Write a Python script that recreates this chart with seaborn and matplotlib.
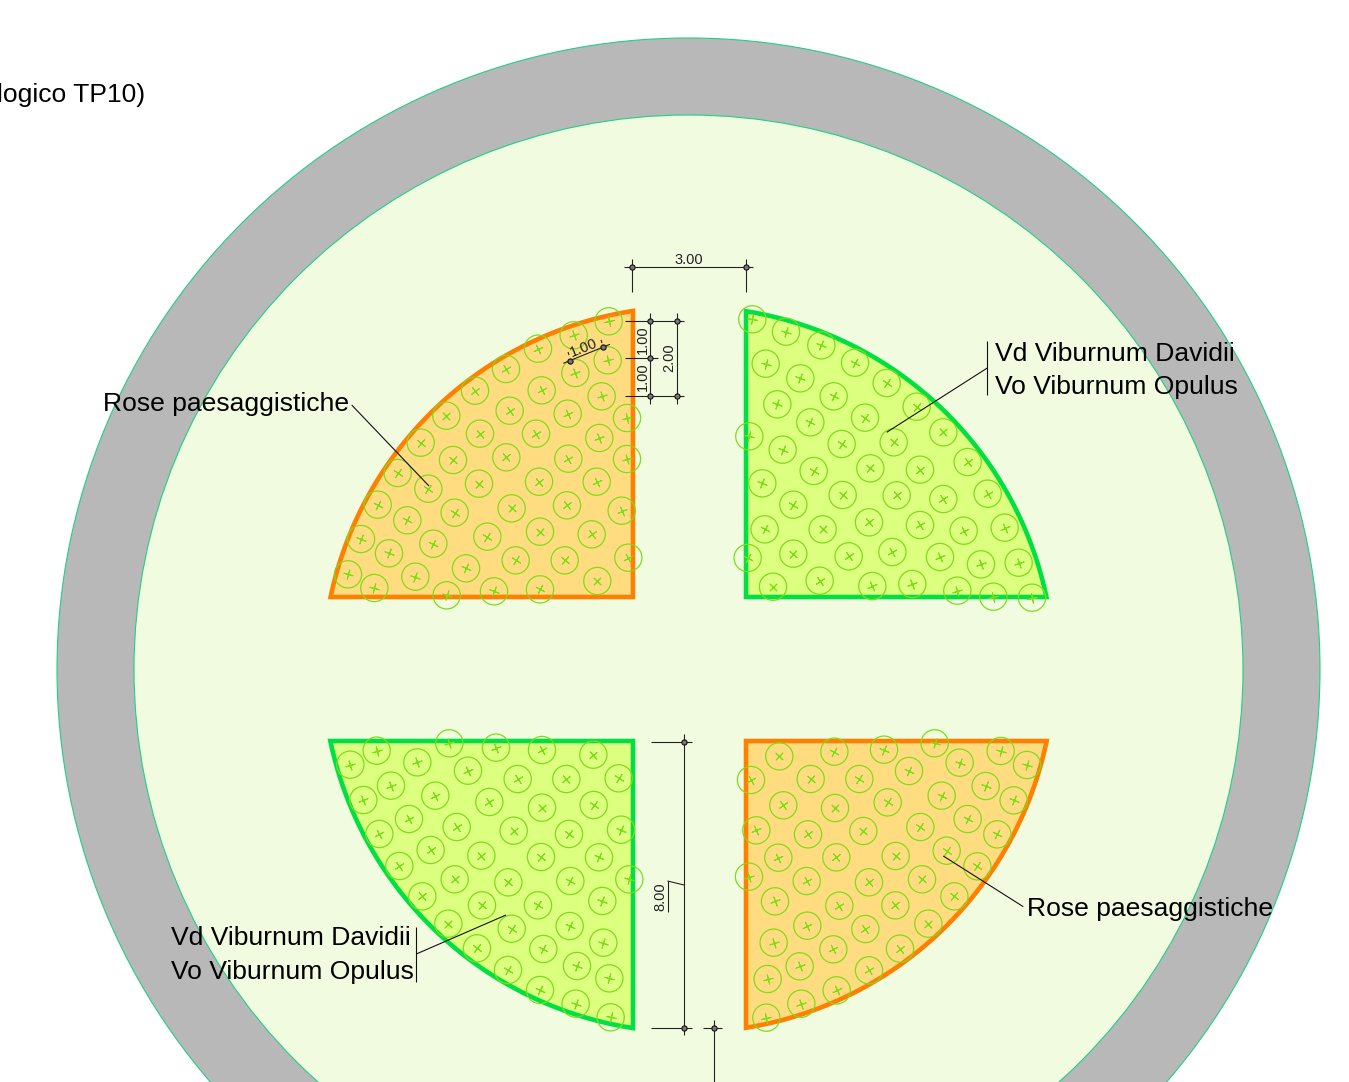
import numpy as np
import pandas as pd
import matplotlib
matplotlib.use("Agg")
import matplotlib.pyplot as plt
from matplotlib.patches import Circle
import seaborn as sns

sns.set_theme(style="white")
plt.rcParams["font.family"] = ["Liberation Sans", "DejaVu Sans"]

W, H = 1349, 1082
RING_CENTER = (688.5, 669.5)
RING_OUTER, RING_INNER, SECTOR_R = 631.5, 554.5, 365.8
ARC_SHIFT = 3

Q1_ORIGIN = (320, 240)
Q1 = [(866,244),(761,286),(654,326),(558,387),(465,452),(379,527),(302,608),(233,699),(173,794),(123,897),
      (84,1003),(163,1044),(207,940),(262,841),(325,746),(399,660),(480,581),(569,512),(665,451),(766,399),
      (863,361),(845,469),(743,521),(648,581),(559,652),(477,731),(404,818),(340,911),(286,1010),(380,1066),
      (438,985),(502,890),(575,805),(657,725),(745,656),(838,594),(921,534),(921,657),(830,725),(741,796),
      (660,875),(587,961),(522,1054),(660,1048),(734,961),(815,883),(905,812),(832,1023),(925,953)]
Q2_ORIGIN = (730, 300)
Q2 = [(67,58),(168,95),(274,136),(375,188),(470,249),(560,320),(640,397),(713,486),(773,581),(824,683),
      (866,788),(906,893),(790,890),(682,872),(753,793),(701,692),(640,597),(570,509),(491,427),(405,353),
      (311,289),(211,235),(107,191),(142,313),(241,367),(335,432),(421,505),(500,586),(570,675),(630,771),
      (547,852),(487,756),(417,667),(338,585),(251,513),(158,449),(58,409),(97,550),(190,614),(278,688),
      (356,769),(427,858),(269,842),(190,761),(104,688),(53,774),(129,860)]
Q3_ORIGIN = (320, 720)
Q3 = [(91,134),(170,92),(292,127),(388,70),(528,83),(666,90),(820,104),(896,175),(739,177),(593,177),
      (444,152),(213,197),(130,240),(346,227),(508,246),(666,263),(821,255),(903,329),(747,342),(581,332),
      (410,321),(267,297),(178,342),(332,390),(484,407),(663,411),(837,412),(928,478),(751,483),(565,487),
      (404,478),(238,438),(307,529),(486,556),(654,556),(847,543),(385,611),(575,626),(749,618),(850,668),
      (471,685),(670,687),(771,738),(868,775),(564,750),(660,810),(767,851),(872,892)]
Q4_ORIGIN = (730, 720)
Q4 = [(148,109),(313,95),(462,89),(614,70),(812,93),(891,135),(689,128),(537,153),(388,177),(242,177),
      (63,180),(160,256),(315,264),(473,247),(635,227),(767,198),(851,241),(713,297),(571,321),(400,333),
      (234,343),(79,331),(145,413),(319,412),(497,408),(650,392),(802,343),(742,439),(576,478),(417,487),
      (230,483),(57,470),(135,544),(328,557),(496,556),(673,529),(595,611),(406,627),(232,617),(131,668),
      (310,688),(510,686),(417,751),(209,739),(113,777),(214,851),(320,811),(109,893)]

# sector corner (x, y) and the side its straight edges run to
SECTOR_X = [633, 746, 633, 746]
SECTOR_Y = [597, 597, 741, 741]
SECTOR_FILL = ["#ffdc80", "#dcff80", "#dcff80", "#ffdc80"]
SECTOR_EDGE = ["#ff8000", "#00e040", "#00e040", "#ff8000"]

LABELS = ["logico TP10)", "Rose paesaggistiche", "Vd Viburnum Davidii", "Vo Viburnum Opulus",
          "Vd Viburnum Davidii", "Vo Viburnum Opulus", "Rose paesaggistiche"]
LABEL_X = [145.5, 103, 995, 995, 171, 171, 1027]
LABEL_Y = [95, 404, 354, 387, 938, 972, 909]
LABEL_HA = ["right", "left", "left", "left", "left", "left", "left"]

LEADERS = [((351.7, 405), (429, 486)), ((987.3, 368), (886.7, 432.3)),
           ((987.3, 341), (987.3, 395)), ((416.3, 927), (416.3, 982)),
           ((416.3, 954), (506, 915)), ((943.3, 856), (1023.3, 906.7))]

DIM_LINES = [((624, 267.3), (753, 267.3)), ((632.3, 259), (632.3, 292)), ((746, 259), (746, 292)),
             ((625, 321), (684, 321)), ((625, 358.3), (658, 358.3)), ((625, 396), (684, 396)),
             ((650, 313), (650, 404)), ((676.7, 313), (676.7, 404)),
             ((563.3, 363.3), (610, 344.3)), ((568, 352), (569, 355)), ((601, 340), (602, 343)),
             ((651, 741.5), (692, 741.5)), ((651, 1027.5), (692, 1027.5)), ((684, 734), (684, 1035)),
             ((684, 885), (667.5, 881)), ((667.5, 881), (667.5, 912)),
             ((703, 1027.5), (722, 1027.5)), ((714.3, 1020), (714.3, 1082))]
DIM_NODES_X = [632.3, 746, 650, 676.7, 650, 650, 676.7, 570, 603, 684, 684, 714.3]
DIM_NODES_Y = [267.3, 267.3, 321, 321, 358.3, 396, 396, 361, 347, 741.5, 1027.5, 1027.5]
DIM_TEXT = ["3.00", "1.00", "1.00", "2.00", "1.00", "8.00"]
DIM_TEXT_X = [688.5, 642.5, 642.5, 669, 584, 660.5]
DIM_TEXT_Y = [259.5, 340, 377, 358, 347.5, 897]
DIM_TEXT_ROT = [0, 90, 90, 90, 22, 90]

PLANT = "#7fdc18"

fig = plt.figure(figsize=(W / 100, H / 100), dpi=100, facecolor="white")
ax = fig.add_axes([0, 0, 1, 1])
ax.set_xlim(0, W)
ax.set_ylim(H, 0)
ax.axis("off")

ax.add_patch(Circle(RING_CENTER, RING_OUTER, fc="#b8b8b8", ec="#20d088", lw=0.8, zorder=1))
ax.add_patch(Circle(RING_CENTER, RING_INNER, fc="#f1fbe0", ec="#20d088", lw=0.8, zorder=2))

cx, cy = RING_CENTER
for sx, sy, fill, edge in zip(SECTOR_X, SECTOR_Y, SECTOR_FILL, SECTOR_EDGE):
    dir_x = np.sign(sx - cx)
    dir_y = np.sign(sy - cy)
    arc_cy = cy - dir_y * ARC_SHIFT
    a0 = np.arctan2(abs(sy - arc_cy), np.sqrt(SECTOR_R**2 - (sy - arc_cy)**2))
    a1 = np.arctan2(np.sqrt(SECTOR_R**2 - (sx - cx)**2), abs(sx - cx))
    t = np.linspace(a0, a1, 120)
    xs = np.r_[sx, cx + dir_x * SECTOR_R * np.cos(t)]
    ys = np.r_[sy, arc_cy + dir_y * SECTOR_R * np.sin(t)]
    ax.fill(xs, ys, facecolor=fill, edgecolor=edge, lw=3.3, joinstyle="miter", zorder=3)

frames = []
for pts, (ox, oy) in zip([Q1, Q2, Q3, Q4], [Q1_ORIGIN, Q2_ORIGIN, Q3_ORIGIN, Q4_ORIGIN]):
    arr = np.array(pts, dtype=float)
    frames.append(pd.DataFrame({"x": ox + arr[:, 0] / 3, "y": oy + arr[:, 1] / 3}))
plants = pd.concat(frames, ignore_index=True)

sns.scatterplot(data=plants, x="x", y="y", marker="o", s=385, facecolor="none",
                edgecolor=PLANT, linewidth=0.9, ax=ax, zorder=4, legend=False)
for x, y in zip(plants["x"], plants["y"]):
    ang = np.degrees(np.arctan2(cy - y, x - cx))
    ax.scatter([x], [y], marker=(4, 2, ang), s=47, c=PLANT, linewidths=0.75, zorder=4)

for (x0, y0), (x1, y1) in LEADERS:
    ax.plot([x0, x1], [y0, y1], color="#111111", lw=0.8, zorder=6, solid_capstyle="butt")
for (x0, y0), (x1, y1) in DIM_LINES:
    ax.plot([x0, x1], [y0, y1], color="#222222", lw=0.8, zorder=6, solid_capstyle="butt")
ax.scatter(DIM_NODES_X, DIM_NODES_Y, s=14, facecolor="#777777", edgecolor="#111111", linewidths=0.8, zorder=7)

for txt, x, y, ha in zip(LABELS, LABEL_X, LABEL_Y, LABEL_HA):
    ax.text(x, y, txt, fontsize=19.05, color="#000000", ha=ha, va="center", zorder=8)
for txt, x, y, r in zip(DIM_TEXT, DIM_TEXT_X, DIM_TEXT_Y, DIM_TEXT_ROT):
    ax.text(x, y, txt, fontsize=10.5, color="#222222", ha="center", va="center", rotation=r,
            family=["Liberation Sans Narrow", "Liberation Sans"], zorder=8)

fig.savefig("out.png", dpi=100, facecolor="white")
